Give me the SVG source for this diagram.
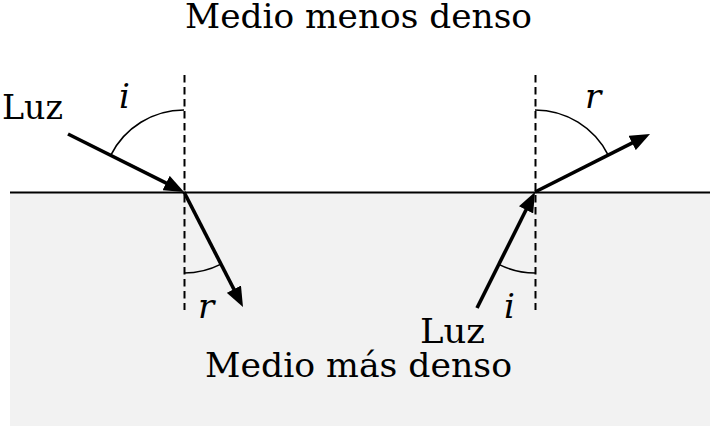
<svg xmlns="http://www.w3.org/2000/svg" width="710" height="426" viewBox="0 0 710 426">
  <defs>
    <marker id="arrow" markerUnits="userSpaceOnUse" markerWidth="20" markerHeight="16" refX="8" refY="8" orient="auto">
      <path d="M0,0 L20,8 L0,16 z" fill="#000"/>
    </marker>
    <style>
      .txt { font-family: "DejaVu Serif", "Liberation Serif", serif; font-size: 34px; fill: #000; }
      .math { font-family: "DejaVu Serif", "Liberation Serif", serif; font-style: italic; font-size: 34px; fill: #000; }
      .ray { stroke: #000; stroke-width: 3.6; fill: none; marker-end: url(#arrow); }
      .normal { stroke: #000; stroke-width: 2; stroke-dasharray: 7.5 4.5; fill: none; }
      .arc { stroke: #000; stroke-width: 1.6; fill: none; }
    </style>
  </defs>

  <g id="medium">
    <rect x="10" y="193" width="700" height="233" fill="#f2f2f2"/>
    <line x1="10" y1="192.5" x2="710" y2="192.5" stroke="#000" stroke-width="2"/>
    <text class="txt" x="185" y="28" textLength="347" lengthAdjust="spacingAndGlyphs">Medio menos denso</text>
    <text class="txt" x="205" y="377" textLength="307" lengthAdjust="spacingAndGlyphs">Medio más denso</text>
  </g>

  <g id="left-case">
    <line class="normal" x1="184.5" y1="75" x2="184.5" y2="310"/>
    <path class="arc" d="M184,110 A82,82 0 0 0 110.7,155.3"/>
    <path class="arc" d="M184,273 A81,81 0 0 0 221,264.1"/>
    <text class="txt" x="2" y="119" textLength="61" lengthAdjust="spacingAndGlyphs">Luz</text>
    <text class="math" x="119" y="108">i</text>
    <text class="math" x="198" y="318">r</text>
  </g>

  <g id="right-case">
    <line class="normal" x1="535.5" y1="75" x2="535.5" y2="310"/>
    <path class="arc" d="M535,110 A82,82 0 0 1 608.2,155.1"/>
    <path class="arc" d="M535,273 A81,81 0 0 1 498.8,264.4"/>
    <text class="txt" x="420" y="343" textLength="65" lengthAdjust="spacingAndGlyphs">Luz</text>
    <text class="math" x="585" y="108">r</text>
    <text class="math" x="504" y="318">i</text>
  </g>

  <g id="connectors">
    <line class="ray" x1="68" y1="134" x2="173.3" y2="186.6"/>
    <line class="ray" x1="184" y1="192" x2="237.5" y2="296.3"/>
    <line class="ray" x1="477" y1="308" x2="529.6" y2="202.7"/>
    <line class="ray" x1="535" y1="192" x2="639.3" y2="139.4"/>
  </g>
</svg>
